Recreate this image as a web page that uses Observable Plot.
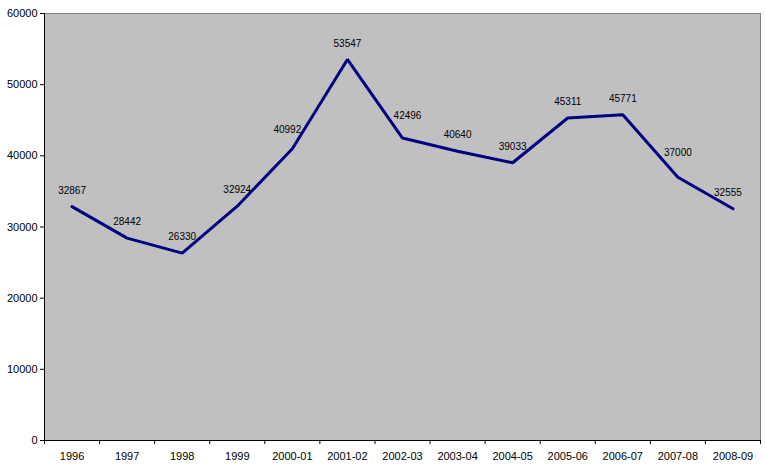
<!DOCTYPE html>
<html><head><meta charset="utf-8">
<script src="https://cdn.jsdelivr.net/npm/d3@7"></script>
<script src="https://cdn.jsdelivr.net/npm/@observablehq/plot@0.6"></script>
<style>body{margin:0;background:#fff;font-family:"Liberation Sans",Arial,sans-serif}</style>
</head><body><div id="chart"></div>
<script>
const periods = ["1996","1997","1998","1999","2000-01","2001-02","2002-03","2003-04","2004-05","2005-06","2006-07","2007-08","2008-09"];
const values = [32867,28442,26330,32924,40992,53547,42496,40640,39033,45311,45771,37000,32555];
const yTicks = [0,10000,20000,30000,40000,50000,60000];

const data = periods.map((p,i)=>({i, p, v: values[i]}));
const idx = periods.map((_,i)=>i);
const bounds = [...idx.map(i=>i-0.5), periods.length-0.5];
const nudged = new Set(["2000-01","2002-03","2007-08","2008-09"]);
const at = p => d => d.p === p;

const textOpts = {x: "i", y: "v", text: d=>String(d.v), fontSize: 10, fill: "#000"};

const chart = Plot.plot({
  width: 766, height: 470,
  marginLeft: 44, marginRight: 6, marginTop: 13, marginBottom: 30,
  style: {fontFamily: '"Liberation Sans", Arial, sans-serif', fontSize: "11px", color: "#000", background: "#fff"},
  x: {type: "linear", domain: [-0.5, periods.length-0.5]},
  y: {domain: [0, 60000]},
  marks: [
    Plot.frame({fill: "#C0C0C0", stroke: "#808080"}),
    Plot.ruleY([0], {stroke: "#000"}),
    Plot.ruleX([-0.5], {stroke: "#000"}),
    Plot.axisY({ticks: yTicks, tickSize: 4, tickPadding: 3, tickFormat: d=>String(d), label: null, fontSize: 11}),
    Plot.axisX({ticks: bounds, tickSize: 4, tickFormat: ()=>"", label: null}),
    Plot.axisX({ticks: idx, tickSize: 0, tickPadding: 12, tickFormat: i=>periods[i], label: null, fontSize: 11}),
    Plot.line(data, {x: "i", y: "v", stroke: "#000080", strokeWidth: 3, strokeLinejoin: "miter"}),
    Plot.text(data, {...textOpts, filter: d => !nudged.has(d.p), dy: -16}),
    Plot.text(data, {...textOpts, filter: at("2000-01"), dx: -5, dy: -19}),
    Plot.text(data, {...textOpts, filter: at("2002-03"), dx: 5, dy: -22}),
    Plot.text(data, {...textOpts, filter: at("2007-08"), dy: -24}),
    Plot.text(data, {...textOpts, filter: at("2008-09"), dx: -5, dy: -16})
  ]
});
document.getElementById("chart").append(chart);
</script></body></html>
